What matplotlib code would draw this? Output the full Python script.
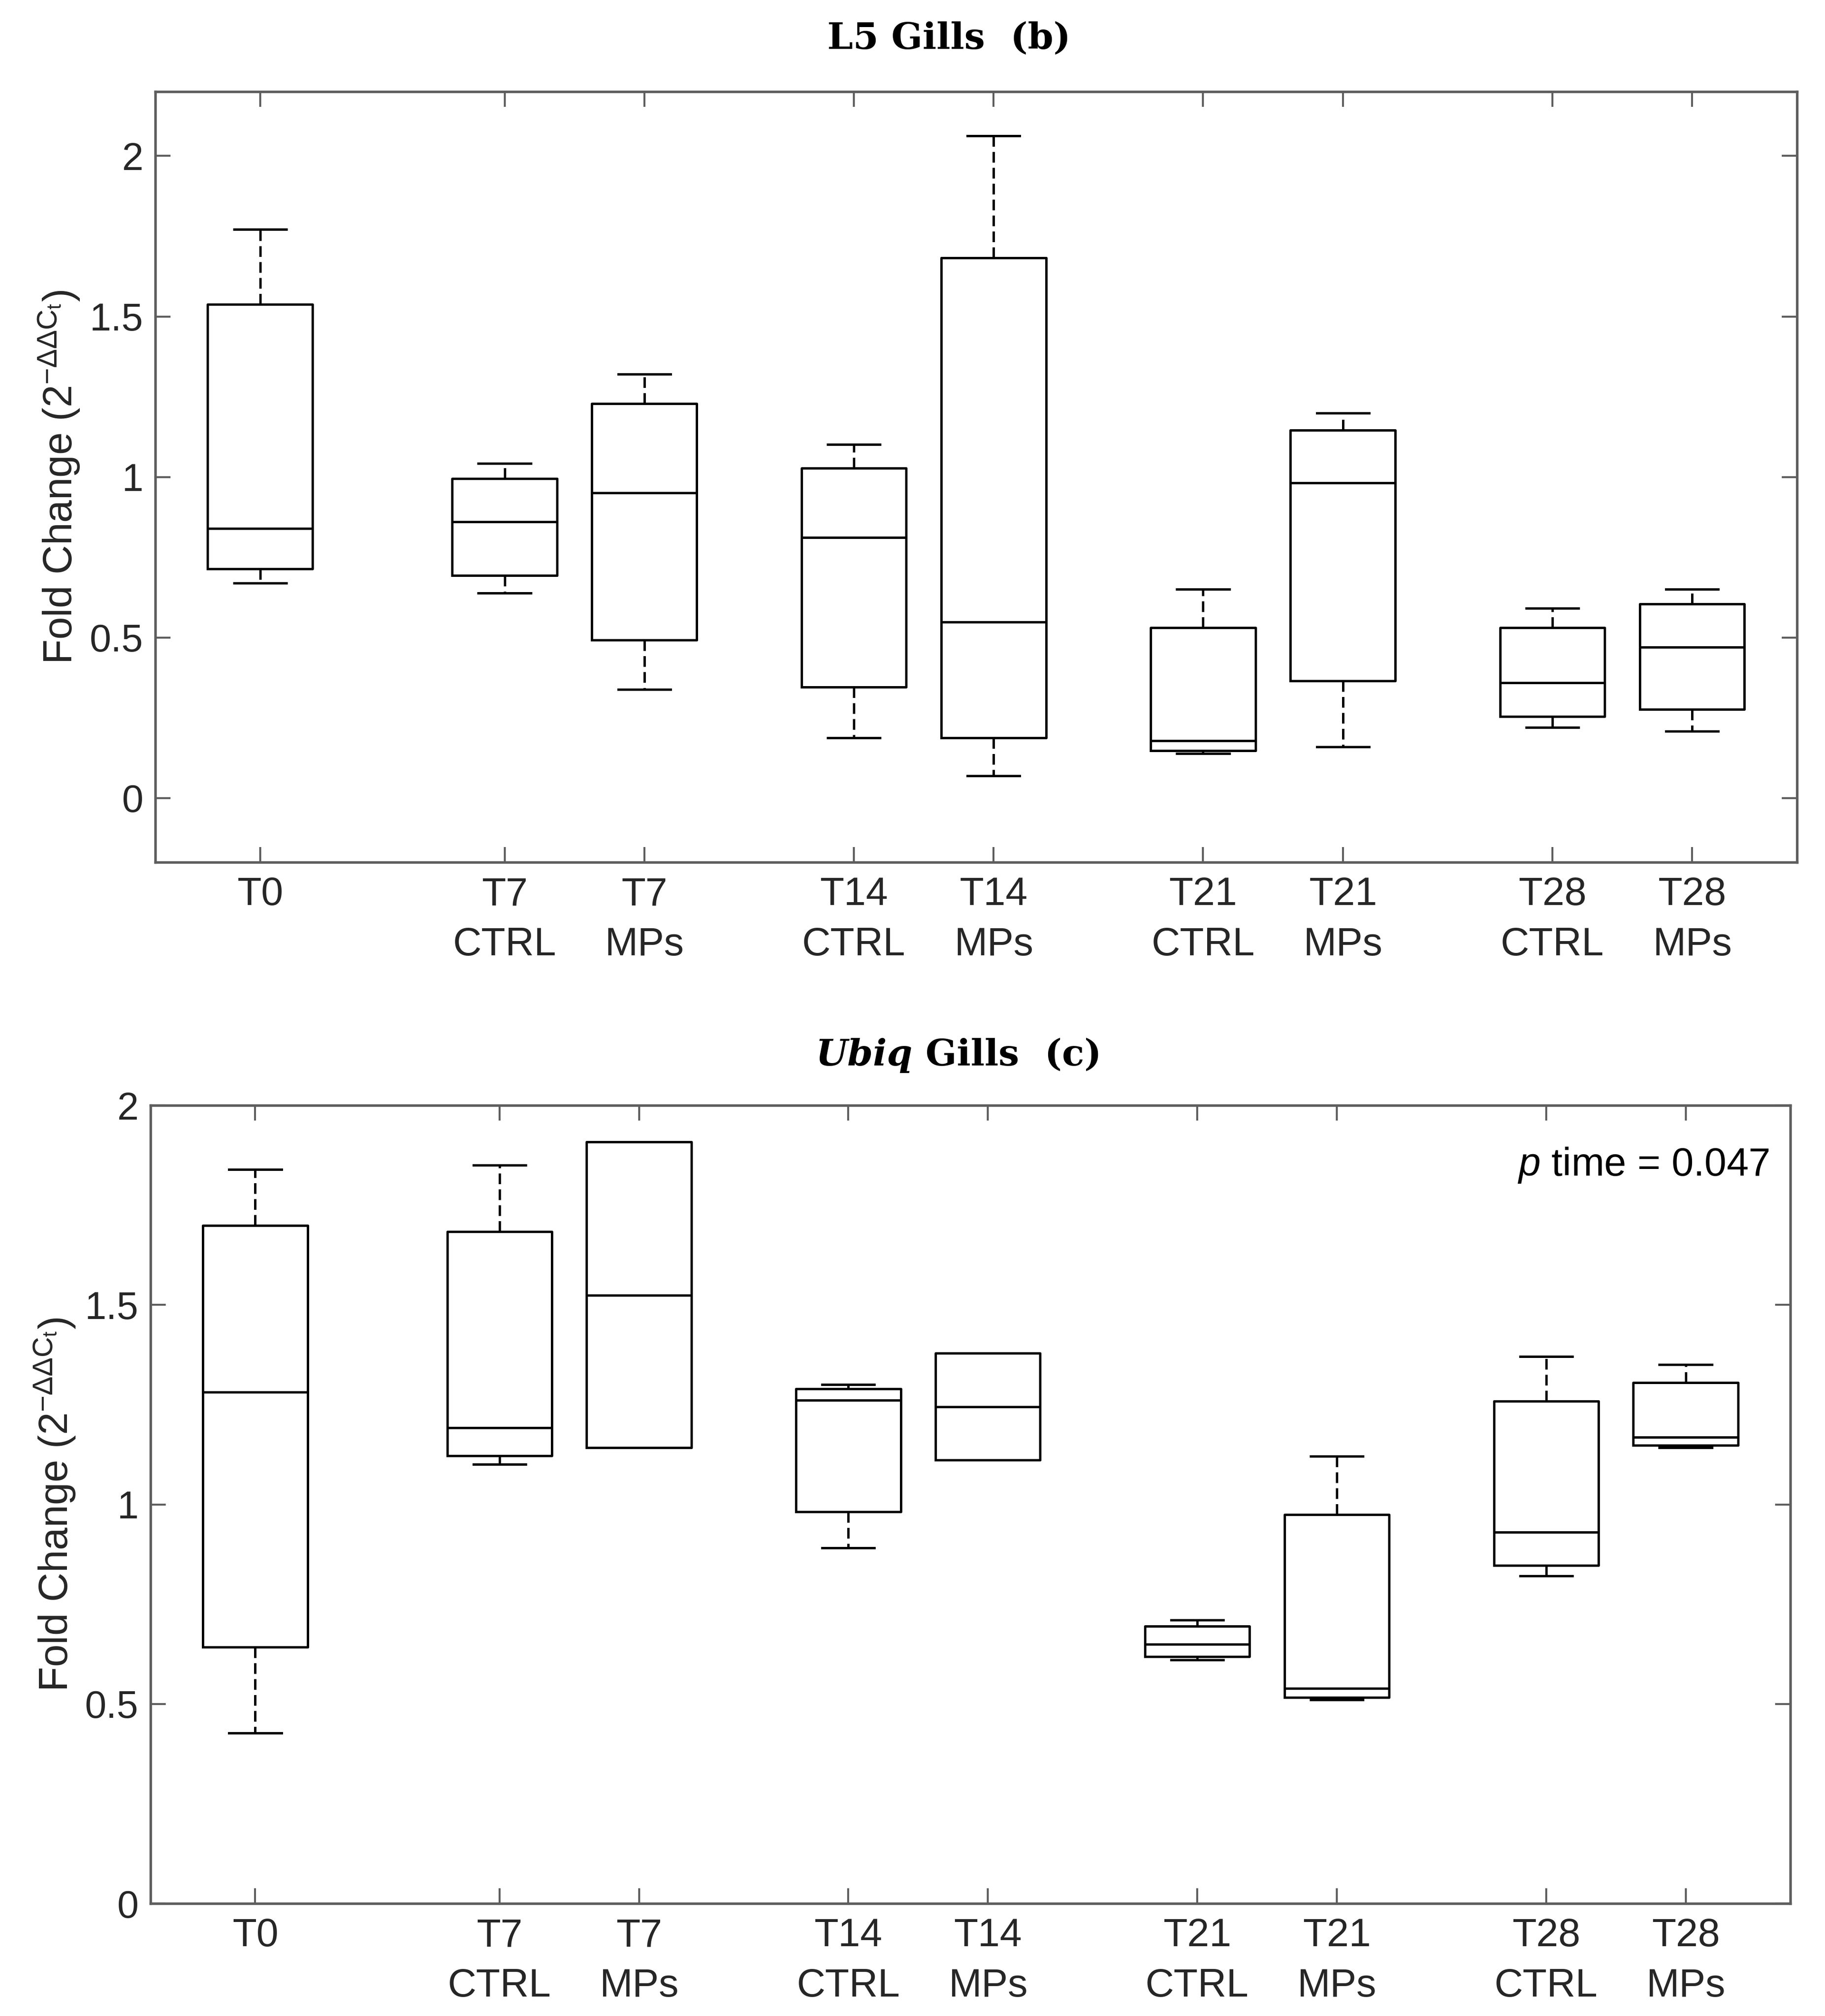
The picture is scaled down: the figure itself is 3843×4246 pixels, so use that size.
import matplotlib
matplotlib.use("Agg")
import matplotlib.pyplot as plt

plt.rcParams["font.family"] = ["Liberation Sans", "DejaVu Sans"]
plt.rcParams["mathtext.fontset"] = "custom"
plt.rcParams["mathtext.rm"] = "Liberation Sans"
plt.rcParams["mathtext.it"] = "Liberation Sans:italic"

# categories
labels = ["T0", "T7\nCTRL", "T7\nMPs", "T14\nCTRL", "T14\nMPs",
          "T21\nCTRL", "T21\nMPs", "T28\nCTRL", "T28\nMPs"]

# L5 gills (b): lower whisker, Q1, median, Q3, upper whisker
l5_whislo = [0.670, 0.638, 0.339, 0.188, 0.069, 0.139, 0.159, 0.220, 0.208]
l5_q1 = [0.714, 0.694, 0.492, 0.345, 0.188, 0.147, 0.365, 0.254, 0.276]
l5_med = [0.840, 0.860, 0.951, 0.811, 0.549, 0.178, 0.981, 0.359, 0.470]
l5_q3 = [1.538, 0.995, 1.229, 1.027, 1.683, 0.531, 1.146, 0.531, 0.605]
l5_whishi = [1.772, 1.043, 1.320, 1.102, 2.063, 0.650, 1.199, 0.591, 0.650]

# Ubiq gills (c)
ub_whislo = [0.427, 1.101, 1.142, 0.891, 1.111, 0.611, 0.510, 0.821, 1.142]
ub_q1 = [0.643, 1.122, 1.142, 0.982, 1.111, 0.619, 0.516, 0.847, 1.148]
ub_med = [1.282, 1.192, 1.524, 1.261, 1.244, 0.650, 0.539, 0.930, 1.168]
ub_q3 = [1.699, 1.684, 1.909, 1.290, 1.379, 0.695, 0.974, 1.259, 1.305]
ub_whishi = [1.839, 1.850, 1.909, 1.301, 1.379, 0.710, 1.121, 1.371, 1.350]

p_text = "$\\mathit{p}$ time = 0.047"
ylabel = "Fold Change (2$^{\\mathregular{-ΔΔC_t}}$)"

# T0 alone, then pairs CTRL/MPs per time point
positions = [1, 2.75, 3.75, 5.25, 6.25, 7.75, 8.75, 10.25, 11.25]

AXIS_GREY = "#5e5e5e"
TEXT_COL = "#262626"


def draw_panel(ax, whislo, q1, med, q3, whishi, ylim, yticks, yticklabels):
    stats = []
    for i in range(len(labels)):
        stats.append(dict(whislo=whislo[i], q1=q1[i], med=med[i],
                          q3=q3[i], whishi=whishi[i], fliers=[]))
    line = dict(color="black", linewidth=1.2)
    ax.bxp(stats, positions=positions, widths=0.75, capwidths=0.375,
           showfliers=False, manage_ticks=False,
           boxprops=line, medianprops=line, capprops=line,
           whiskerprops=dict(color="black", linewidth=1.2,
                             linestyle=(0, (4.5, 2.2))))
    ax.set_xlim(0.25, 12.0)
    ax.set_ylim(*ylim)
    ax.set_xticks(positions)
    ax.set_xticklabels(labels, fontsize=20, color=TEXT_COL,
                       linespacing=1.45)
    ax.set_yticks(yticks)
    ax.set_yticklabels(yticklabels, fontsize=19.5, color=TEXT_COL)
    ax.tick_params(direction="in", length=7.7, width=1.0, color=AXIS_GREY,
                   top=True, right=True)
    ax.tick_params(axis="x", pad=7)
    ax.tick_params(axis="y", pad=6)
    for sp in ax.spines.values():
        sp.set_color(AXIS_GREY)
        sp.set_linewidth(1.3)
    ax.set_ylabel(ylabel, fontsize=20.5, color=TEXT_COL, labelpad=4)


fig = plt.figure(figsize=(3843 / 300, 4246 / 300), dpi=300)

ax1 = fig.add_axes([0.0851, 0.5723, 0.8995, 0.3822])
draw_panel(ax1, l5_whislo, l5_q1, l5_med, l5_q3, l5_whishi,
           (-0.2, 2.2), [0, 0.5, 1, 1.5, 2], ["0", "0.5", "1", "1.5", "2"])

ax2 = fig.add_axes([0.0825, 0.0558, 0.8985, 0.3959])
draw_panel(ax2, ub_whislo, ub_q1, ub_med, ub_q3, ub_whishi,
           (0, 2), [0, 0.5, 1, 1.5, 2], ["0", "0.5", "1", "1.5", "2"])
ax2.text(0.987, 0.912, p_text, transform=ax2.transAxes, ha="right",
         va="baseline", fontsize=20, color="black")

# titles (bold serif, gene name in italic)
fig.text(0.52, 1 - 82 / 4246, "L5 Gills  (b)", ha="center", va="center",
         fontsize=18.5, fontweight="bold", family="DejaVu Serif")
t_gene = fig.text(0.447, 1 - 2223 / 4246, "Ubiq", ha="left", va="center",
                  fontsize=18.5, fontweight="bold", style="italic",
                  family="DejaVu Serif")
plt.annotate(" Gills  (c)", xy=(1, 0), xycoords=t_gene, va="bottom",
             fontsize=18.5, fontweight="bold", family="DejaVu Serif",
             annotation_clip=False)

fig.savefig("out.png", dpi=300)
